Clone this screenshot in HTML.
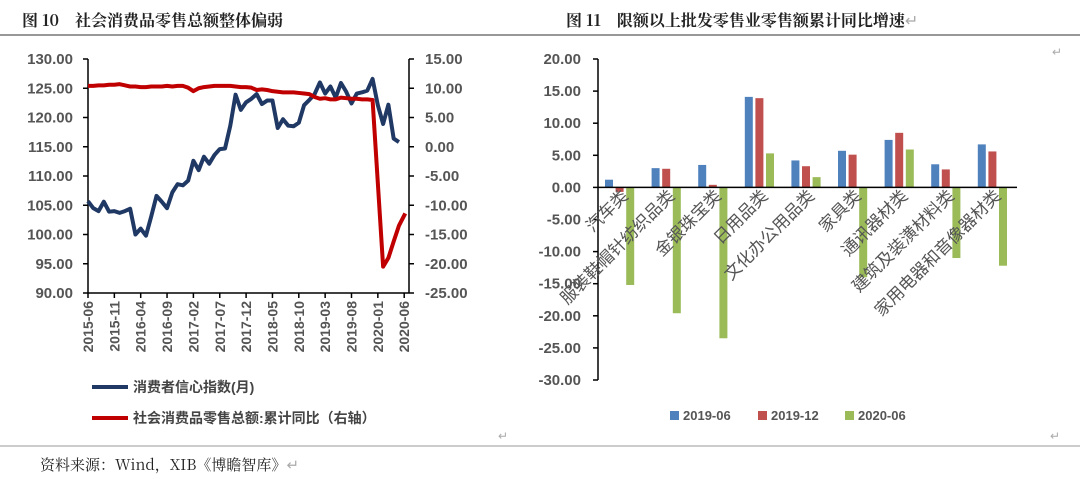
<!DOCTYPE html>
<html><head><meta charset="utf-8"><style>
html,body{margin:0;padding:0;background:#fff;}
body{width:1080px;height:479px;overflow:hidden;position:relative;font-family:"Liberation Sans","Noto Sans CJK SC",sans-serif;}
svg{position:absolute;left:0;top:0;}
</style></head><body>
<svg id="s" width="1080" height="479" xmlns="http://www.w3.org/2000/svg">
<text x="22" y="26" font-family="'Noto Serif CJK SC','Liberation Serif',serif" font-size="16" font-weight="bold" fill="#222">图 10　社会消费品零售总额整体偏弱</text>
<text x="566" y="26" font-family="'Noto Serif CJK SC','Liberation Serif',serif" font-size="16" font-weight="bold" fill="#222">图 11　限额以上批发零售业零售额累计同比增速<tspan fill="#aaa" font-weight="normal">↵</tspan></text>
<line x1="0" y1="35" x2="1080" y2="35" stroke="#777" stroke-width="1.5"/>
<line x1="0" y1="446" x2="1080" y2="446" stroke="#999" stroke-width="1"/>
<text x="40" y="470" font-family="'Noto Serif CJK SC','Liberation Serif',serif" font-size="15" fill="#222">资料来源：Wind，XIB《博瞻智库》<tspan fill="#aaa">↵</tspan></text>
<text x="498" y="440" font-size="12" fill="#aaa">↵</text>
<text x="1050" y="440" font-size="12" fill="#aaa">↵</text>
<text x="1052" y="56" font-size="12" fill="#aaa">↵</text>
<g id="L"></g><g id="R"></g>
<line x1="92" y1="387" x2="128" y2="387" stroke="#1f3864" stroke-width="4"/>
<text x="133" y="392" font-size="14" font-weight="bold" fill="#444">消费者信心指数(月)</text>
<line x1="92" y1="418" x2="128" y2="418" stroke="#c00000" stroke-width="4"/>
<text x="133" y="423" font-size="14" font-weight="bold" fill="#444">社会消费品零售总额:累计同比（右轴）</text>
<rect x="670" y="411" width="9" height="9" fill="#4f81bd"/><text x="683" y="420" font-size="13" font-weight="bold" fill="#555">2019-06</text>
<rect x="758" y="411" width="9" height="9" fill="#c0504d"/><text x="771" y="420" font-size="13" font-weight="bold" fill="#555">2019-12</text>
<rect x="845" y="411" width="9" height="9" fill="#9bbb59"/><text x="858" y="420" font-size="13" font-weight="bold" fill="#555">2020-06</text>
</svg>
<script>
const NS="http://www.w3.org/2000/svg";
function el(p,t,a,txt){const e=document.createElementNS(NS,t);for(const k in a)e.setAttribute(k,a[k]);if(txt!==undefined)e.textContent=txt;p.appendChild(e);return e;}
const L=document.getElementById('L'),R=document.getElementById('R');
const x0=88,x1=409,yT=59,yB=293;
const yl=v=>yT+(130-v)*(yB-yT)/40, yr=v=>yT+(15-v)*(yB-yT)/40;
const xm=i=>88+i*5.27;
for(let k=0;k<=8;k++){const v=130-5*k,y=yl(v);
 el(L,'text',{x:73,y:y+5,'text-anchor':'end','font-size':15,'font-weight':'bold',fill:'#555'},v.toFixed(2));
 el(L,'line',{x1:x0-5,y1:y,x2:x0,y2:y,stroke:'#000','stroke-width':1.5});
 const rv=15-5*k;
 el(L,'text',{x:425,y:y+5,'font-size':15,'font-weight':'bold',fill:'#555'},rv.toFixed(2));
 el(L,'line',{x1:x1,y1:y,x2:x1+5,y2:y,stroke:'#000','stroke-width':1.5});
}
el(L,'line',{x1:x0,y1:yT,x2:x0,y2:yB,stroke:'#000','stroke-width':1.5});
el(L,'line',{x1:x1,y1:yT,x2:x1,y2:yB,stroke:'#000','stroke-width':1.5});
el(L,'line',{x1:x0,y1:yB,x2:x1,y2:yB,stroke:'#000','stroke-width':1.5});
const labs=['2015-06','2015-11','2016-04','2016-09','2017-02','2017-07','2017-12','2018-05','2018-10','2019-03','2019-08','2020-01','2020-06'];
labs.forEach((s,i)=>{const x=xm(i*5);
 el(L,'line',{x1:x,y1:yB,x2:x,y2:yB+5,stroke:'#000','stroke-width':1.5});
 el(L,'text',{x:x+5,y:yB+8,'text-anchor':'end','font-size':14,'font-weight':'bold',fill:'#555',transform:`rotate(-90 ${x+5} ${yB+8})`},s);
});
const cci=[105.7,104.5,104.0,105.6,103.9,104.0,103.7,104.0,104.4,100.0,101.0,99.8,103.1,106.6,105.6,104.5,107.2,108.6,108.4,109.2,112.6,111.0,113.3,112.1,113.6,114.6,114.7,118.6,123.9,121.3,122.6,123.2,124.0,122.3,122.9,122.9,118.2,119.7,118.6,118.5,119.1,122.1,123.0,124.0,126.0,124.1,125.3,123.4,125.9,124.4,122.4,124.1,124.3,124.6,126.6,122.1,118.9,122.2,116.4,115.8];
el(L,'polyline',{points:cci.map((v,i)=>xm(i)+','+yl(v)).join(' '),fill:'none',stroke:'#1f3864','stroke-width':4,'stroke-linejoin':'round'});
const rs=[];
const base=[10.4,10.4,10.5,10.5,10.6,10.6,10.7,10.5,10.3,10.3,10.2,10.2,10.3,10.3,10.3,10.4,10.3,10.4,10.4,10.1,9.5,10.0,10.2,10.3,10.4,10.4,10.4,10.4,10.3,10.2,10.2,10.1,9.7,9.8,9.7,9.5,9.4,9.3,9.3,9.3,9.2,9.1,9.0,8.5,8.2,8.3,8.1,8.1,8.4,8.3,8.2,8.2,8.1,8.1,8.0];
base.forEach((v,i)=>rs.push([xm(i),yr(v)]));
[[56,-20.5],[57,-19.0],[58,-16.2],[59,-13.5],[60.2,-11.4]].forEach(([i,v])=>rs.push([xm(i),yr(v)]));
el(L,'polyline',{points:rs.map(p=>p.join(',')).join(' '),fill:'none',stroke:'#c00000','stroke-width':4,'stroke-linejoin':'round'});
const ax=598,rT=59,rB=380,pu=(rB-rT)/50,yz=v=>rT+(20-v)*pu;
for(let k=0;k<=10;k++){const v=20-5*k,y=yz(v);
 el(R,'text',{x:581,y:y+5,'text-anchor':'end','font-size':15,'font-weight':'bold',fill:'#555'},v.toFixed(2));
 el(R,'line',{x1:ax-5,y1:y,x2:ax,y2:y,stroke:'#000','stroke-width':1.5});
}
el(R,'line',{x1:ax,y1:rT,x2:ax,y2:rB,stroke:'#000','stroke-width':1.5});
const cats=['汽车类','服装鞋帽针纺织品类','金银珠宝类','日用品类','文化办公用品类','家具类','通讯器材类','建筑及装潢材料类','家用电器和音像器材类'];
const d=[[1.2,-0.7,-15.2],[3.0,2.9,-19.6],[3.5,0.4,-23.5],[14.1,13.9,5.3],[4.2,3.3,1.6],[5.7,5.1,-14.0],[7.4,8.5,5.9],[3.6,2.8,-11.0],[6.7,5.6,-12.2]];
const cols=['#4f81bd','#c0504d','#9bbb59'],gw=46.6;
d.forEach((g,i)=>{g.forEach((v,j)=>{const x=ax+7+i*gw+j*10.6;const y=Math.min(yz(v),yz(0));
 el(R,'rect',{x:x,y:y,width:8,height:Math.abs(yz(v)-yz(0)),fill:cols[j]});});
 const cx=ax+31+i*gw, cy=197;
 el(R,'text',{x:cx,y:cy,'text-anchor':'end','font-size':17,fill:'#555',transform:`rotate(-45 ${cx} ${cy})`},cats[i]);
});
el(R,'line',{x1:ax,y1:yz(0),x2:1017,y2:yz(0),stroke:'#000','stroke-width':1.5});
</script>
</body></html>
